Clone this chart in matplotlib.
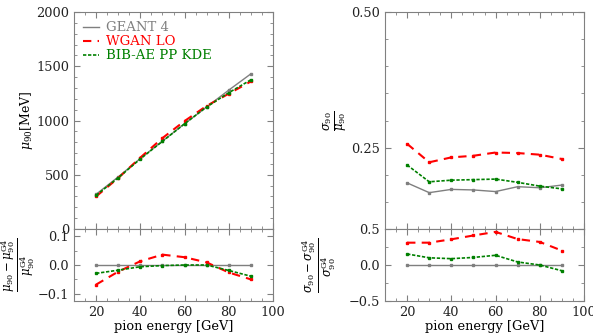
import matplotlib
matplotlib.use("Agg")
import matplotlib.pyplot as plt
from matplotlib.ticker import MultipleLocator
from matplotlib.lines import Line2D

plt.rcParams['font.family'] = ['DejaVu Serif']
plt.rcParams['mathtext.fontset'] = 'dejavuserif'

energy = [20, 30, 40, 50, 60, 70, 80, 90]

# mean mu90 [MeV]
mu_g4 = [320, 480, 650, 810, 970, 1125, 1280, 1430]
mu_wgan = [300, 470, 658, 838, 995, 1135, 1247, 1360]
mu_bib = [311, 472, 646, 808, 970, 1125, 1256, 1375]

# relative deviation of mu90
dmu_g4 = [0, 0, 0, 0, 0, 0, 0, 0]
dmu_wgan = [-0.068, -0.023, 0.013, 0.036, 0.027, 0.009, -0.026, -0.050]
dmu_bib = [-0.029, -0.018, -0.006, -0.002, 0.0, 0.0, -0.019, -0.039]

# resolution sigma90/mu90
res_g4 = [0.185, 0.167, 0.173, 0.172, 0.169, 0.178, 0.176, 0.181]
res_wgan = [0.257, 0.223, 0.232, 0.235, 0.241, 0.240, 0.237, 0.229]
res_bib = [0.218, 0.187, 0.190, 0.191, 0.192, 0.186, 0.179, 0.174]

# relative deviation of sigma90
dsig_g4 = [0, 0, 0, 0, 0, 0, 0, 0]
dsig_wgan = [0.31, 0.31, 0.357, 0.41, 0.46, 0.36, 0.32, 0.20]
dsig_bib = [0.153, 0.10, 0.088, 0.105, 0.135, 0.042, 0.0, -0.08]

labels = ["GEANT 4", "WGAN LO", "BIB-AE PP KDE"]
colors = ["#7f7f7f", "#ff0000", "#008000"]
styles = ['-', (0, (4, 3)), (0, (2, 1))]
widths = [1.0, 1.5, 1.2]

W, H = 593, 335
fig = plt.figure(figsize=(W / 100, H / 100), dpi=100)

def box(x0, x1, y0, y1):
    return [x0 / W, 1 - y1 / H, (x1 - x0) / W, (y1 - y0) / H]

axL = fig.add_axes(box(74, 273, 12, 229))
axLr = fig.add_axes(box(74, 273, 229, 301), sharex=axL)
axR = fig.add_axes(box(385, 584, 12, 229))
axRr = fig.add_axes(box(385, 584, 229, 301), sharex=axR)

def draw(ax, *series):
    for y, c, s, w in zip(series, colors, styles, widths):
        ax.plot(energy, y, color=c, lw=w, ls=s, marker='s', ms=2)

draw(axL, mu_g4, mu_wgan, mu_bib)
draw(axLr, dmu_g4, dmu_wgan, dmu_bib)
draw(axR, res_g4, res_wgan, res_bib)
draw(axRr, dsig_g4, dsig_wgan, dsig_bib)

fs = 9.3
for ax in (axL, axLr, axR, axRr):
    ax.set_xlim(10, 100)
    ax.tick_params(which='both', direction='in', top=True, right=True,
                   color='#808080', labelsize=fs, labelcolor='#222222')
    ax.tick_params(which='major', length=4)
    ax.tick_params(which='minor', length=2)
    ax.xaxis.set_major_locator(MultipleLocator(20))
    ax.xaxis.set_minor_locator(MultipleLocator(5))
    for s in ax.spines.values():
        s.set_color('#808080')

for ax in (axL, axR):
    ax.tick_params(labelbottom=False)

axL.set_ylim(0, 2000)
axL.yaxis.set_major_locator(MultipleLocator(500))
axL.yaxis.set_minor_locator(MultipleLocator(100))
axL.set_ylabel(r'$\mu_{90}[\mathrm{MeV}]$', fontsize=9)
axL.yaxis.set_label_coords(-0.196, 0.5)

axLr.set_ylim(-0.125, 0.125)
axLr.yaxis.set_major_locator(MultipleLocator(0.1))
axLr.yaxis.set_minor_locator(MultipleLocator(0.05))
axLr.set_ylabel(r'$\frac{\mu_{90}-\mu_{90}^{\mathrm{G4}}}{\mu_{90}^{\mathrm{G4}}}$', fontsize=12)
axLr.yaxis.set_label_coords(-0.186, 0.5)
axLr.set_xlabel('pion energy [GeV]', fontsize=fs, labelpad=1)

axR.set_ylim(0.1, 0.5)
axR.set_yticks([0.25, 0.5])
axR.set_yticklabels(['0.25', '0.50'])
axR.yaxis.set_minor_locator(MultipleLocator(0.05))
axR.set_ylabel(r'$\frac{\sigma_{90}}{\mu_{90}}$', fontsize=12)
axR.yaxis.set_label_coords(-0.176, 0.5)

axRr.set_ylim(-0.5, 0.5)
axRr.yaxis.set_major_locator(MultipleLocator(0.5))
axRr.yaxis.set_minor_locator(MultipleLocator(0.25))
axRr.set_ylabel(r'$\frac{\sigma_{90}-\sigma_{90}^{\mathrm{G4}}}{\sigma_{90}^{\mathrm{G4}}}$', fontsize=12)
axRr.yaxis.set_label_coords(-0.236, 0.5)
axRr.set_xlabel('pion energy [GeV]', fontsize=fs, labelpad=1)

handles = [Line2D([], [], color=c, ls=s, lw=w) for c, s, w in zip(colors, styles, widths)]
leg = axL.legend(handles, labels, loc='upper left', frameon=False, fontsize=9.5,
                 handlelength=1.2, handletextpad=0.5, labelspacing=0.08,
                 borderaxespad=0.4, borderpad=0.3)
for t, c in zip(leg.get_texts(), colors):
    t.set_color(c)

fig.savefig('out.png', dpi=100)
